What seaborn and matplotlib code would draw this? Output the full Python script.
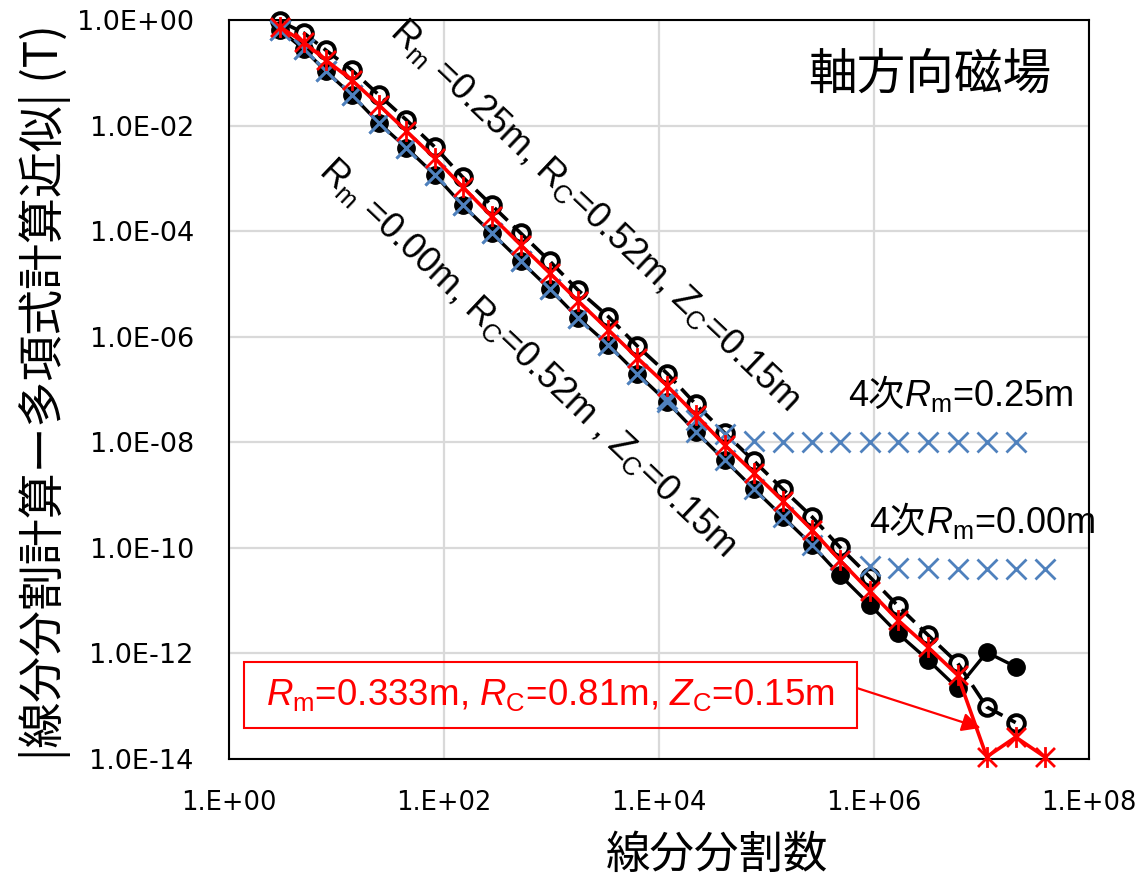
import matplotlib
matplotlib.use("Agg")
import matplotlib.pyplot as plt
from matplotlib.path import Path
from matplotlib.patches import Rectangle
from matplotlib.ticker import NullLocator
import seaborn as sns

# Number of line segments used in the integration
segments = [3, 5, 8, 14, 25, 45, 83, 150, 280, 520, 970, 1770, 3400, 6300,
            12000, 22000, 41000, 77000, 142000, 265000, 480000, 920000,
            1670000, 3170000, 6000000, 11200000, 20800000, 38800000]

# |segment calculation - polynomial calculation| (T)
err_rm000 = [0.65, 0.28, 0.108, 0.038, 0.0112, 3.8e-3, 1.16e-3, 3.1e-4, 9.2e-5,
             2.7e-5, 8.0e-6, 2.3e-6, 7.0e-7, 2.0e-7, 5.8e-8, 1.6e-8, 4.6e-9,
             1.3e-9, 3.9e-10, 1.14e-10, 3.1e-11, 8.3e-12, 2.4e-12, 7.6e-13,
             2.2e-13, 1.05e-12, 5.6e-13]
err_rm025 = [0.95, 0.57, 0.27, 0.113, 0.038, 0.0128, 3.9e-3, 1.06e-3, 3.1e-4,
             9.2e-5, 2.7e-5, 7.7e-6, 2.4e-6, 6.7e-7, 2.0e-7, 5.3e-8, 1.5e-8,
             4.4e-9, 1.3e-9, 3.9e-10, 1.04e-10, 2.8e-11, 8.0e-12, 2.25e-12,
             6.6e-13, 9.7e-14, 4.9e-14]
err_rm0333 = [0.74, 0.38, 0.175, 0.073, 0.0245, 7.9e-3, 2.4e-3, 6.9e-4, 1.9e-4,
              5.5e-5, 1.6e-5, 4.8e-6, 1.35e-6, 4.0e-7, 1.17e-7, 3.3e-8, 8.9e-9,
              2.6e-9, 7.8e-10, 2.2e-10, 5.9e-11, 1.5e-11, 4.3e-12, 1.33e-12,
              3.9e-13, 1.1e-14, 2.6e-14, 1.1e-14]
# 4th-order polynomial comparison
err_poly4_rm000 = [0.65, 0.28, 0.108, 0.038, 0.0112, 3.8e-3, 1.16e-3, 3.1e-4,
                   9.2e-5, 2.7e-5, 8.0e-6, 2.3e-6, 7.0e-7, 2.0e-7, 5.8e-8,
                   1.6e-8, 4.6e-9, 1.3e-9, 3.9e-10, 1.14e-10, 6.0e-11, 4.5e-11,
                   4.2e-11, 4.1e-11, 4.0e-11, 4.0e-11, 4.0e-11, 4.0e-11]
err_poly4_rm025 = [0.65, 0.28, 0.108, 0.038, 0.0112, 3.8e-3, 1.16e-3, 3.1e-4,
                   9.2e-5, 2.7e-5, 8.0e-6, 2.3e-6, 7.0e-7, 2.0e-7, 6.6e-8,
                   2.6e-8, 1.45e-8, 1.05e-8, 1.0e-8, 1.0e-8, 1.0e-8, 1.0e-8,
                   1.0e-8, 1.0e-8, 1.0e-8, 1.0e-8, 1.0e-8]

x_ticks = [1e0, 1e2, 1e4, 1e6, 1e8]
x_tick_labels = ["1.E+00", "1.E+02", "1.E+04", "1.E+06", "1.E+08"]
y_ticks = [1e0, 1e-2, 1e-4, 1e-6, 1e-8, 1e-10, 1e-12, 1e-14]
y_tick_labels = ["1.0E+00", "1.0E-02", "1.0E-04", "1.0E-06", "1.0E-08",
                 "1.0E-10", "1.0E-12", "1.0E-14"]

sns.set_theme(style="white")
plt.rcParams["font.family"] = ["Liberation Sans", "Noto Sans CJK JP"]
plt.rcParams["mathtext.fontset"] = "custom"
plt.rcParams["mathtext.rm"] = "Liberation Sans"
plt.rcParams["mathtext.it"] = "Liberation Sans:italic"
plt.rcParams["mathtext.bf"] = "Liberation Sans:bold"
plt.rcParams["text.color"] = "black"
plt.rcParams["axes.labelcolor"] = "black"
plt.rcParams["xtick.color"] = "black"
plt.rcParams["ytick.color"] = "black"

W, H = 1144, 881
fig = plt.figure(figsize=(W / 100, H / 100), dpi=100)
fig.patch.set_facecolor("white")
ax = fig.add_axes([228.5 / W, 1 - 759 / H, 860.5 / W, 739 / H])
ax.set_xscale("log")
ax.set_yscale("log")

# asterisk marker: an x with a vertical stroke
star = Path([(-1, -1), (1, 1), (-1, 1), (1, -1), (0, -1.1), (0, 1.1)],
            [Path.MOVETO, Path.LINETO] * 3)

common = dict(ax=ax, estimator=None, sort=False, clip_on=False)
blue = "#4f81bd"

sns.lineplot(x=segments[:len(err_rm025)], y=err_rm025, color="black",
             linewidth=2.6, linestyle=(0, (5, 2.2)), marker="o", markersize=12,
             markerfacecolor="none", markeredgecolor="black",
             markeredgewidth=2.8, zorder=3, **common)
sns.lineplot(x=segments[:len(err_rm000)], y=err_rm000, color="black",
             linewidth=2.4, marker="o", markersize=12.5, markerfacecolor="black",
             markeredgecolor="black", markeredgewidth=1.0, zorder=4, **common)
sns.lineplot(x=segments[:len(err_poly4_rm025)], y=err_poly4_rm025,
             color=blue, linestyle="none", marker="x", markersize=15,
             markeredgecolor=blue, markeredgewidth=2.0, zorder=5, **common)
sns.lineplot(x=segments[:len(err_poly4_rm000)], y=err_poly4_rm000,
             color=blue, linestyle="none", marker="x", markersize=15,
             markeredgecolor=blue, markeredgewidth=2.0, zorder=5, **common)
sns.lineplot(x=segments[:len(err_rm0333)], y=err_rm0333, color="red",
             linewidth=2.6, marker=star, markersize=15, markerfacecolor="none",
             markeredgecolor="red", markeredgewidth=2.0, zorder=6, **common)

ax.set_xlim(1, 1e8)
ax.set_ylim(1e-14, 1)
ax.set_xticks(x_ticks, labels=x_tick_labels)
ax.set_yticks(y_ticks, labels=y_tick_labels)
ax.xaxis.set_minor_locator(NullLocator())
ax.yaxis.set_minor_locator(NullLocator())
ax.tick_params(direction="in", length=8, width=1.5, color="black",
               labelcolor="black")
ax.tick_params(axis="x", pad=22, labelsize=18.5)
ax.tick_params(axis="y", pad=25, labelsize=19.5)
for lbl in ax.get_xticklabels() + ax.get_yticklabels():
    lbl.set_fontfamily("DejaVu Sans")
ax.grid(True, which="major", color="#d9d9d9", linewidth=1.6)
ax.set_axisbelow(True)
for sp in ax.spines.values():
    sp.set_visible(True)
    sp.set_color("black")
    sp.set_linewidth(1.5)
ax.set_xlabel("")
ax.set_ylabel("")

jp = ["Noto Sans CJK JP"]
fig.text(717 / W, 1 - 855 / H, "線分分割数", fontsize=32, family=jp,
         ha="center", va="center", color="black")
fig.text(45 / W, 1 - 392 / H, "|線分分割計算ー多項式計算近似| (T)", fontsize=33,
         family=jp, rotation=90, ha="center", va="center", color="black")

txt = ["Liberation Sans", "Noto Sans CJK JP"]
ax.text(0.426, 0.736,
        r"$\mathrm{R}_\mathrm{m}$ =0.25m, $\mathrm{R}_\mathrm{C}$=0.52m, "
        r"$\mathrm{Z}_\mathrm{C}$=0.15m",
        transform=ax.transAxes, fontsize=26, family=txt, rotation=-43.5,
        rotation_mode="anchor", ha="center", va="center", color="black")
ax.text(0.348, 0.543,
        r"$\mathrm{R}_\mathrm{m}$ =0.00m, $\mathrm{R}_\mathrm{C}$=0.52m , "
        r"$\mathrm{Z}_\mathrm{C}$=0.15m",
        transform=ax.transAxes, fontsize=26, family=txt, rotation=-43.5,
        rotation_mode="anchor", ha="center", va="center", color="black")
ax.text(0.673, 0.9256, "軸方向磁場", transform=ax.transAxes, fontsize=35,
        family=jp, ha="left", va="center", color="black")

# "4次" followed by the radius part, placed on a shared baseline
fig.canvas.draw()
renderer = fig.canvas.get_renderer()
for (fx, fy), rm in [((0.72, 0.478), "0.25m"), ((0.745, 0.306), "0.00m")]:
    head = ax.text(fx, fy, "4次", transform=ax.transAxes, fontsize=26,
                   family=txt, ha="left", va="baseline", color="black")
    bb = head.get_window_extent(renderer)
    x_end = ax.transAxes.inverted().transform((bb.x1, bb.y0))[0]
    ax.text(x_end, fy, r"$R_\mathrm{m}$=" + rm, transform=ax.transAxes,
            fontsize=26, family=txt, ha="left", va="baseline", color="black")

# boxed label with arrow to the red series
ax.add_patch(Rectangle((0.018, 0.042), 0.7124, 0.0893, transform=ax.transAxes,
                       fill=False, edgecolor="red", linewidth=1.5, zorder=7,
                       clip_on=False))
ax.text(0.3742, 0.0866,
        r"$R_\mathrm{m}$=0.333m, $R_\mathrm{C}$=0.81m, $Z_\mathrm{C}$=0.15m",
        transform=ax.transAxes, fontsize=26.5, color="red", family=txt,
        ha="center", va="center", zorder=7)
ax.annotate("", xy=(0.874, 0.042), xycoords="axes fraction",
            xytext=(0.7304, 0.096), textcoords="axes fraction",
            arrowprops=dict(arrowstyle="-|>", color="red", lw=1.6,
                            mutation_scale=28, shrinkA=0, shrinkB=0),
            zorder=7)

fig.savefig("out.png", dpi=100, facecolor="white")
